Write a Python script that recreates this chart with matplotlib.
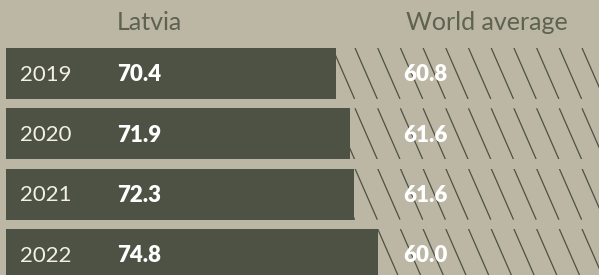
import matplotlib
matplotlib.use("Agg")
import matplotlib.pyplot as plt
from matplotlib.patches import Rectangle

years = ["2019", "2020", "2021", "2022"]
latvia = [70.4, 71.9, 72.3, 74.8]
world = [60.8, 61.6, 61.6, 60.0]

BG = "#bcb6a4"
DARK = "#4d5244"
HEAD = "#5d6251"

plt.rcParams["font.family"] = ["Lato", "DejaVu Sans"]

fig = plt.figure(figsize=(5.99, 2.75), dpi=100, facecolor=BG)
ax = fig.add_axes([0, 0, 1, 1])
ax.set_facecolor(BG)

base = 36.3
x_left, x_right = 35.68, 97.59
ax.set_xlim(x_left, x_right)
ax.set_ylim(3.34, -1.218)
ax.axis("off")

h = 0.846
rows = range(len(years))
ax.barh(list(rows), [v - base for v in latvia], left=base, height=h,
        color=DARK, zorder=2)

# diagonal hatching beyond each bar
spacing = 22.7 / 9.675
shift = 22.3 / 9.675
first = 355 / 9.675 + x_left
for i, v in enumerate(latvia):
    clip = Rectangle((v, i - h / 2), x_right - v, h, transform=ax.transData,
                     facecolor="none", edgecolor="none")
    ax.add_patch(clip)
    k = -2
    while first + k * spacing < x_right + 1:
        x0 = first + k * spacing
        ln, = ax.plot([x0, x0 + shift], [i - h / 2, i + h / 2], color=DARK,
                      lw=0.9, zorder=1, solid_capstyle="butt")
        ln.set_clip_path(clip)
        k += 1

tr = ax.get_yaxis_transform()
for i in rows:
    ax.text(0.033, i + 0.02, years[i], transform=tr, color="#f2efe7",
            fontsize=16, fontweight="normal", va="center", ha="left", zorder=3)
    ax.text(0.195, i + 0.02, f"{latvia[i]:.1f}", transform=tr, color="white",
            fontsize=16, fontweight="heavy", va="center", ha="left", zorder=3)
    ax.text(0.674, i + 0.02, f"{world[i]:.1f}", transform=tr, color="white",
            fontsize=16, fontweight="heavy", va="center", ha="left", zorder=3)

ax.text(0.195, 0.92, "Latvia", transform=ax.transAxes, color=HEAD,
        fontsize=18, fontweight="normal", va="center", ha="left")
ax.text(0.677, 0.92, "World average", transform=ax.transAxes, color=HEAD,
        fontsize=18, fontweight="normal", va="center", ha="left")

fig.savefig("out.png", dpi=100, facecolor=BG)
